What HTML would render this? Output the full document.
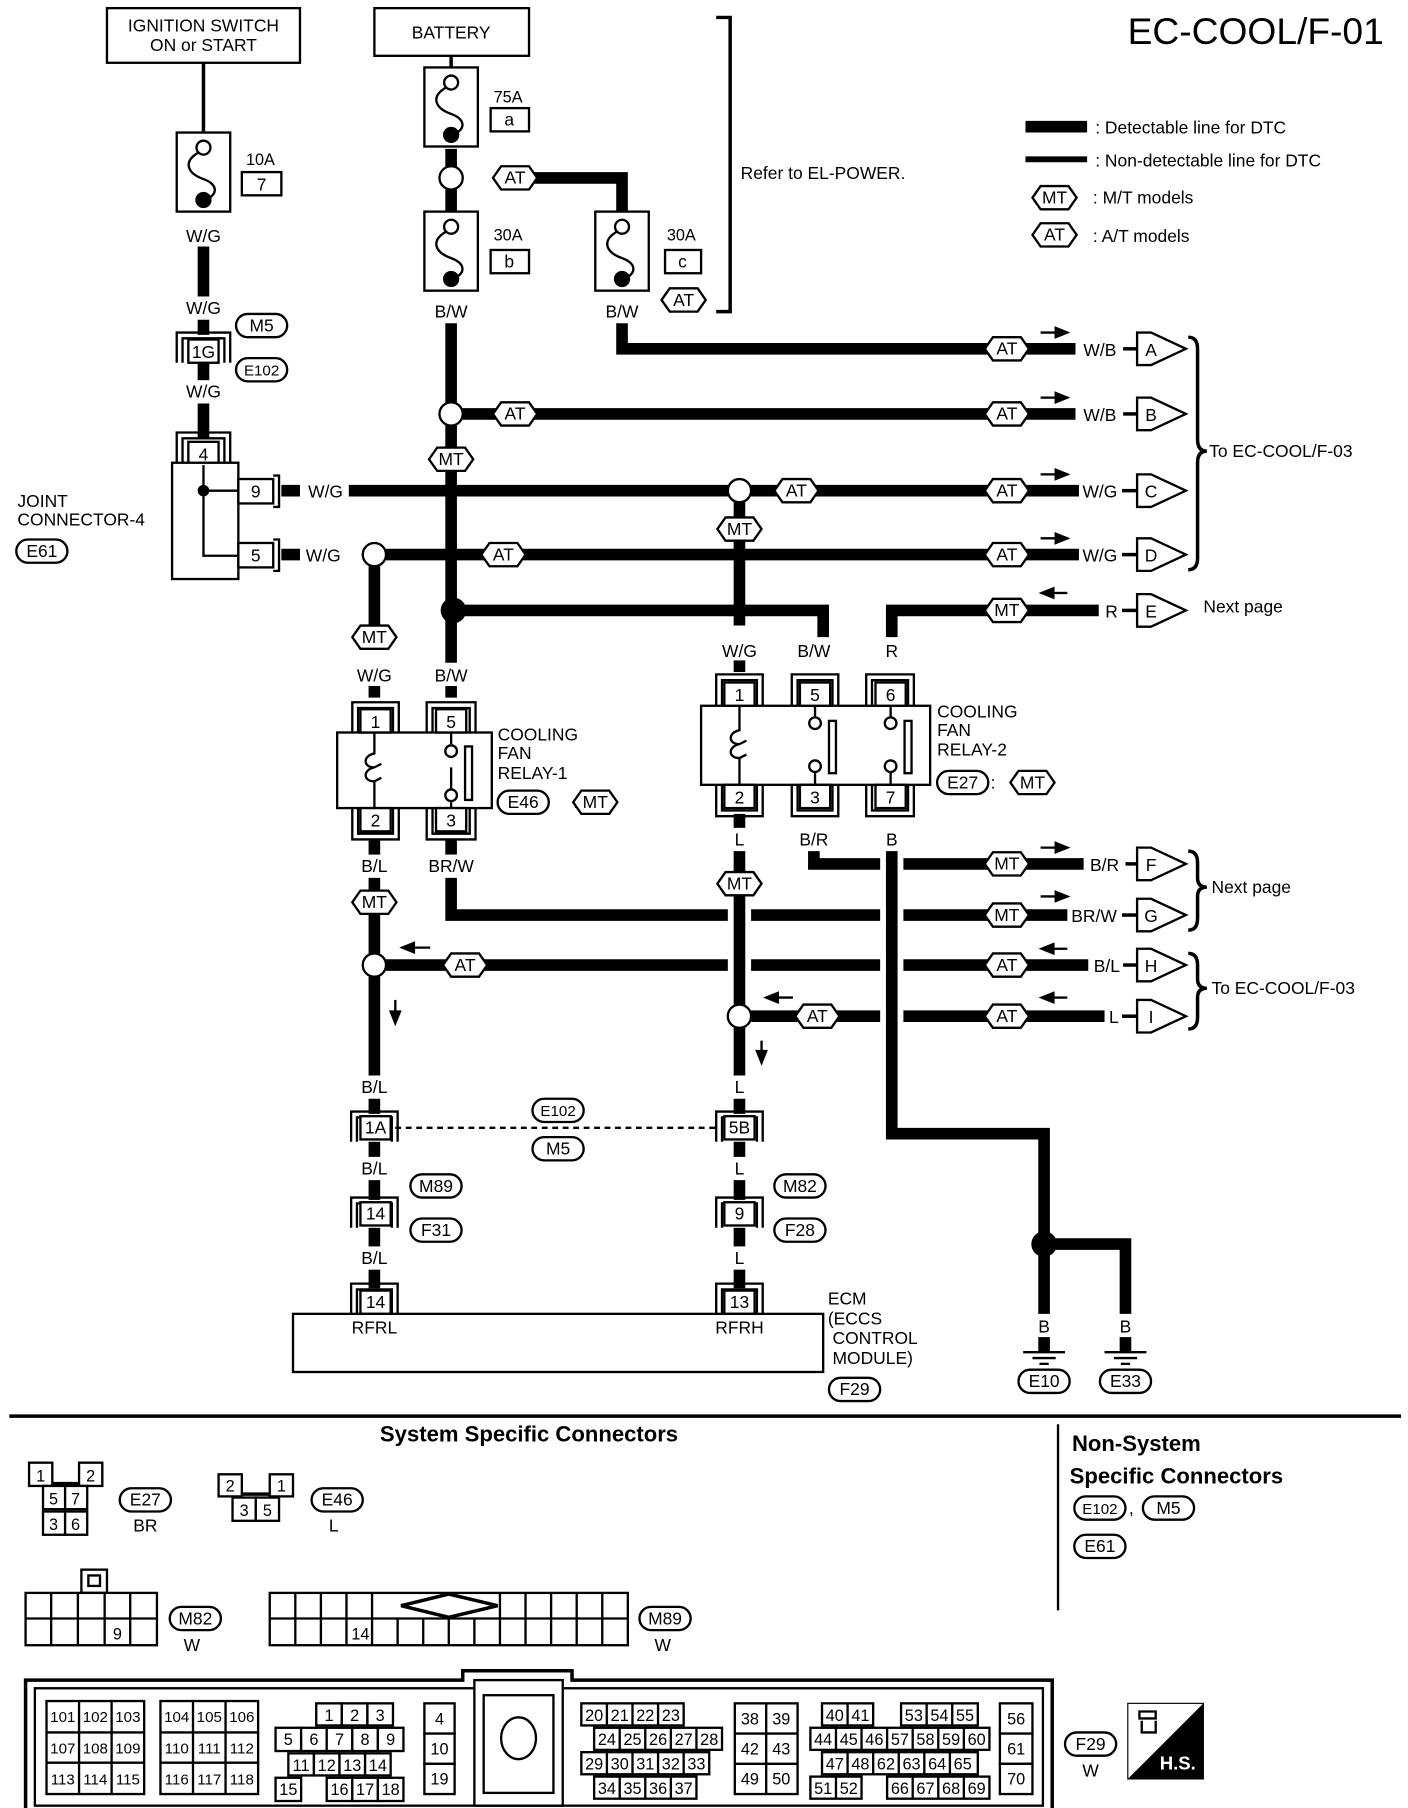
<!DOCTYPE html>
<html><head><meta charset="utf-8"><style>
html,body{margin:0;padding:0;background:#fff}
svg{display:block}
text{font-family:"Liberation Sans",sans-serif;fill:#000}
</style></head><body>
<svg width="1408" height="1808" viewBox="0 0 1211 1555" preserveAspectRatio="none" xmlns="http://www.w3.org/2000/svg">
<defs>
<path id="hx" d="M-19,0 L-12,-10 L12,-10 L19,0 L12,10 L-12,10Z" fill="#fff" stroke="#000" stroke-width="2"/>
<rect id="ov" x="-22" y="-10" width="44" height="20" rx="10" fill="#fff" stroke="#000" stroke-width="2"/>
<path id="fl" d="M0,-14 L12,-14 L42,0 L12,14 L0,14Z" fill="#fff" stroke="#000" stroke-width="2"/>
<g id="fuse"><rect x="-23" y="0" width="46" height="68" fill="#fff" stroke="#000" stroke-width="2"/><circle cx="0" cy="13" r="6" fill="#fff" stroke="#000" stroke-width="2"/><path d="M-4,17 C-18,25 -14,35 0,40 C14,45 12,55 0,58" fill="none" stroke="#000" stroke-width="2"/><circle cx="0" cy="58" r="7" fill="#000"/></g>
</defs>
<g font-size="15" text-anchor="middle">
<text x="1080" y="38" font-size="32">EC-COOL/F-01</text>

<line x1="882" y1="109" x2="935" y2="109" stroke="#000" stroke-width="10"/>
<line x1="882" y1="137" x2="935" y2="137" stroke="#000" stroke-width="5"/>
<g text-anchor="start"><text x="942" y="115">: Detectable line for DTC</text><text x="942" y="143">: Non-detectable line for DTC</text><text x="940" y="175">: M/T models</text><text x="940" y="208">: A/T models</text></g>
<use href="#hx" x="907" y="170"/><text x="907" y="175">MT</text>
<use href="#hx" x="907" y="202"/><text x="907" y="207">AT</text>

<g stroke="#000" stroke-width="10" fill="none">
<line x1="175" y1="212" x2="175" y2="255"/>
<line x1="388" y1="128" x2="388" y2="145"/>
<line x1="388" y1="163" x2="388" y2="182"/>
<polyline points="453,153 535,153 535,182"/>
<line x1="388" y1="278" x2="388" y2="346"/>
<line x1="388" y1="366" x2="388" y2="570"/>
<polyline points="535,278 535,300 850,300"/>
<line x1="398" y1="356" x2="850" y2="356"/>
<line x1="242" y1="422" x2="258" y2="422"/>
<line x1="300" y1="422" x2="626" y2="422"/>
<line x1="646" y1="422" x2="850" y2="422"/>
<line x1="242" y1="477" x2="258" y2="477"/>
<line x1="332" y1="477" x2="850" y2="477"/>
<line x1="636" y1="432" x2="636" y2="538"/>
<line x1="322" y1="487" x2="322" y2="538"/>
<polyline points="390,525 708,525 708,548"/>
<polyline points="850,525 767,525 767,548"/>
<line x1="322" y1="590" x2="322" y2="600"/>
<line x1="388" y1="590" x2="388" y2="600"/>
<line x1="636" y1="568" x2="636" y2="578"/>
<line x1="322" y1="722" x2="322" y2="735"/>
<line x1="322" y1="755" x2="322" y2="820"/>
<line x1="322" y1="840" x2="322" y2="925"/>
<polyline points="388,722 388,735"/>
<polyline points="388,755 388,787 626,787"/>
<line x1="646" y1="787" x2="757" y2="787"/>
<line x1="777" y1="787" x2="850" y2="787"/>
<line x1="332" y1="830" x2="626" y2="830"/>
<line x1="646" y1="830" x2="757" y2="830"/>
<line x1="777" y1="830" x2="850" y2="830"/>
<line x1="636" y1="700" x2="636" y2="712"/>
<line x1="636" y1="732" x2="636" y2="864"/>
<line x1="636" y1="884" x2="636" y2="925"/>
<line x1="646" y1="874" x2="757" y2="874"/>
<line x1="777" y1="874" x2="850" y2="874"/>
<polyline points="700,732 700,743 757,743"/>
<line x1="777" y1="743" x2="850" y2="743"/>
<polyline points="767,732 767,975 898,975 898,1130"/>
<polyline points="898,1070 968,1070 968,1130"/>
<line x1="322" y1="945" x2="322" y2="958"/>
<line x1="322" y1="982" x2="322" y2="995"/>
<line x1="322" y1="1015" x2="322" y2="1032"/>
<line x1="322" y1="1056" x2="322" y2="1072"/>
<line x1="322" y1="1092" x2="322" y2="1108"/>
<line x1="636" y1="945" x2="636" y2="958"/>
<line x1="636" y1="982" x2="636" y2="995"/>
<line x1="636" y1="1015" x2="636" y2="1032"/>
<line x1="636" y1="1056" x2="636" y2="1072"/>
<line x1="636" y1="1092" x2="636" y2="1108"/>
<line x1="175" y1="275" x2="175" y2="288"/>
<line x1="175" y1="312" x2="175" y2="327"/>
<line x1="175" y1="347" x2="175" y2="378"/>
<line x1="898" y1="1150" x2="898" y2="1162"/><line x1="968" y1="1150" x2="968" y2="1162"/>
<line x1="880" y1="300" x2="925" y2="300"/>
<line x1="880" y1="356" x2="925" y2="356"/>
<line x1="880" y1="422" x2="928" y2="422"/>
<line x1="880" y1="477" x2="928" y2="477"/>
<line x1="880" y1="525" x2="945" y2="525"/>
<line x1="880" y1="743" x2="932" y2="743"/>
<line x1="880" y1="787" x2="918" y2="787"/>
<line x1="880" y1="830" x2="936" y2="830"/>
<line x1="880" y1="874" x2="950" y2="874"/>
</g>
<g stroke="#000" stroke-width="3" fill="none">
<line x1="175" y1="54" x2="175" y2="113"/>
<line x1="388" y1="48" x2="388" y2="58"/>
<line x1="966" y1="300" x2="978" y2="300"/><line x1="966" y1="356" x2="978" y2="356"/>
<line x1="965" y1="525" x2="978" y2="525"/>
<line x1="965" y1="422" x2="978" y2="422"/><line x1="965" y1="477" x2="978" y2="477"/>
<line x1="968" y1="743" x2="978" y2="743"/><line x1="965" y1="787" x2="978" y2="787"/>
<line x1="966" y1="830" x2="978" y2="830"/><line x1="965" y1="874" x2="978" y2="874"/>
<line x1="340" y1="970" x2="615" y2="970" stroke-width="2" stroke-dasharray="5,4"/>
<polyline points="616,15 628,15 628,268 616,268"/>
<path d="M1022,290 Q1030,290 1030,300 L1030,378 Q1030,388 1038,388 Q1030,388 1030,398 L1030,480 Q1030,490 1022,490"/>
<path d="M1022,732 Q1030,732 1030,742 L1030,755 Q1030,763 1038,763 Q1030,763 1030,771 L1030,790 Q1030,800 1022,800"/>
<path d="M1022,820 Q1030,820 1030,830 L1030,842 Q1030,850 1038,850 Q1030,850 1030,858 L1030,875 Q1030,885 1022,885"/>
</g>

<rect x="92" y="7" width="166" height="47" fill="#fff" stroke="#000" stroke-width="2"/>
<text x="175" y="27">IGNITION SWITCH</text><text x="175" y="44">ON or START</text>
<use href="#fuse" x="175" y="114"/>
<text x="224" y="142" font-size="14">10A</text><rect x="208" y="148" width="34" height="20" fill="#fff" stroke="#000" stroke-width="2"/><text x="225" y="164">7</text>
<text x="175" y="208">W/G</text><text x="175" y="270">W/G</text><text x="175" y="342">W/G</text>
<path d="M152,312 V286 H198 V312 M157,312 V291 H193 V312" fill="none" stroke="#000" stroke-width="2"/>
<rect x="162" y="292" width="26" height="20" fill="#fff" stroke="#000" stroke-width="2"/><text x="175" y="308">1G</text>
<use href="#ov" x="225" y="280"/><text x="225" y="285">M5</text>
<use href="#ov" x="225" y="318"/><text x="225" y="323" font-size="13">E102</text>

<path d="M152,398 V372 H198 V398 M157,398 V377 H193 V398" fill="none" stroke="#000" stroke-width="2"/>
<rect x="162" y="380" width="26" height="20" fill="#fff" stroke="#000" stroke-width="2"/><text x="175" y="396">4</text>
<rect x="148" y="398" width="57" height="100" fill="#fff" stroke="#000" stroke-width="2"/>
<polyline points="175,400 175,478 206,478" fill="none" stroke="#000" stroke-width="2"/>
<line x1="175" y1="422" x2="206" y2="422" stroke="#000" stroke-width="2"/><circle cx="175" cy="422" r="5"/>
<rect x="205" y="412" width="30" height="21" fill="#fff" stroke="#000" stroke-width="2"/><text x="220" y="428">9</text>
<rect x="205" y="467" width="30" height="21" fill="#fff" stroke="#000" stroke-width="2"/><text x="220" y="483">5</text>
<path d="M235,409 H240 V436 H235 M235,464 H240 V491 H235" fill="none" stroke="#000" stroke-width="2"/>
<text x="280" y="428">W/G</text><text x="278" y="483">W/G</text>
<g text-anchor="start"><text x="15" y="436">JOINT</text><text x="15" y="452">CONNECTOR-4</text></g>
<use href="#ov" x="36" y="474"/><text x="36" y="479">E61</text>

<rect x="322" y="7" width="133" height="41" fill="#fff" stroke="#000" stroke-width="2"/><text x="388" y="33">BATTERY</text>
<use href="#fuse" x="388" y="58"/>
<text x="437" y="88" font-size="14">75A</text><rect x="422" y="93" width="33" height="20" fill="#fff" stroke="#000" stroke-width="2"/><text x="438" y="108">a</text>
<circle cx="388" cy="153" r="10" fill="#fff" stroke="#000" stroke-width="2"/>
<use href="#hx" x="443" y="153"/><text x="443" y="158">AT</text>
<use href="#fuse" x="388" y="182"/><use href="#fuse" x="535" y="182"/>
<text x="437" y="207" font-size="14">30A</text><rect x="422" y="215" width="33" height="20" fill="#fff" stroke="#000" stroke-width="2"/><text x="438" y="230">b</text>
<text x="586" y="207" font-size="14">30A</text><rect x="572" y="215" width="31" height="20" fill="#fff" stroke="#000" stroke-width="2"/><text x="587" y="230">c</text>
<use href="#hx" x="588" y="258"/><text x="588" y="263">AT</text>
<text x="388" y="273">B/W</text><text x="535" y="273">B/W</text>
<text x="637" y="154" text-anchor="start">Refer to EL-POWER.</text>

<circle cx="388" cy="356" r="10" fill="#fff" stroke="#000" stroke-width="2"/>
<circle cx="636" cy="422" r="10" fill="#fff" stroke="#000" stroke-width="2"/>
<circle cx="322" cy="477" r="10" fill="#fff" stroke="#000" stroke-width="2"/>
<circle cx="390" cy="525" r="11"/>
<circle cx="322" cy="830" r="10" fill="#fff" stroke="#000" stroke-width="2"/>
<circle cx="636" cy="874" r="10" fill="#fff" stroke="#000" stroke-width="2"/>
<circle cx="898" cy="1070" r="11"/>

<use href="#hx" x="443" y="356"/><text x="443" y="361">AT</text>
<use href="#hx" x="388" y="395"/><text x="388" y="400">MT</text>
<use href="#hx" x="685" y="422"/><text x="685" y="427">AT</text>
<use href="#hx" x="636" y="455"/><text x="636" y="460">MT</text>
<use href="#hx" x="433" y="477"/><text x="433" y="482">AT</text>
<use href="#hx" x="322" y="548"/><text x="322" y="553">MT</text>
<use href="#hx" x="322" y="776"/><text x="322" y="781">MT</text>
<use href="#hx" x="636" y="760"/><text x="636" y="765">MT</text>
<use href="#hx" x="400" y="830"/><text x="400" y="835">AT</text>
<use href="#hx" x="703" y="874"/><text x="703" y="879">AT</text>
<use href="#hx" x="866" y="300"/><text x="866" y="305">AT</text>
<use href="#hx" x="866" y="356"/><text x="866" y="361">AT</text>
<use href="#hx" x="866" y="422"/><text x="866" y="427">AT</text>
<use href="#hx" x="866" y="477"/><text x="866" y="482">AT</text>
<use href="#hx" x="866" y="525"/><text x="866" y="530">MT</text>
<use href="#hx" x="866" y="743"/><text x="866" y="748">MT</text>
<use href="#hx" x="866" y="787"/><text x="866" y="792">MT</text>
<use href="#hx" x="866" y="830"/><text x="866" y="835">AT</text>
<use href="#hx" x="866" y="874"/><text x="866" y="879">AT</text>
<text x="946" y="306">W/B</text><text x="946" y="362">W/B</text>
<text x="946" y="428">W/G</text><text x="946" y="483">W/G</text>
<text x="956" y="531">R</text>
<text x="950" y="749">B/R</text><text x="941" y="793">BR/W</text><text x="952" y="836">B/L</text><text x="958" y="880">L</text>
<use href="#fl" x="978" y="300"/><text x="990" y="306">A</text>
<use href="#fl" x="978" y="356"/><text x="990" y="362">B</text>
<use href="#fl" x="978" y="422"/><text x="990" y="428">C</text>
<use href="#fl" x="978" y="477"/><text x="990" y="483">D</text>
<use href="#fl" x="978" y="525"/><text x="990" y="531">E</text>
<use href="#fl" x="978" y="743"/><text x="990" y="749">F</text>
<use href="#fl" x="978" y="787"/><text x="990" y="793">G</text>
<use href="#fl" x="978" y="830"/><text x="990" y="836">H</text>
<use href="#fl" x="978" y="874"/><text x="990" y="880">I</text>
<g text-anchor="start"><text x="1040" y="393">To EC-COOL/F-03</text><text x="1035" y="527">Next page</text><text x="1042" y="768">Next page</text><text x="1042" y="855">To EC-COOL/F-03</text></g>
<g stroke="#000" stroke-width="2" fill="#000">
<line x1="895" y1="286" x2="910" y2="286"/><path d="M918,286 L908,282 L908,290Z"/>
<line x1="895" y1="342" x2="910" y2="342"/><path d="M918,342 L908,338 L908,346Z"/>
<line x1="895" y1="408" x2="910" y2="408"/><path d="M918,408 L908,404 L908,412Z"/>
<line x1="895" y1="463" x2="910" y2="463"/><path d="M918,463 L908,459 L908,467Z"/>
<line x1="905" y1="510" x2="918" y2="510"/><path d="M896,510 L906,506 L906,514Z"/>
<line x1="895" y1="729" x2="910" y2="729"/><path d="M918,729 L908,725 L908,733Z"/>
<line x1="895" y1="771" x2="910" y2="771"/><path d="M918,771 L908,767 L908,775Z"/>
<line x1="905" y1="816" x2="918" y2="816"/><path d="M896,816 L906,812 L906,820Z"/>
<line x1="905" y1="858" x2="918" y2="858"/><path d="M896,858 L906,854 L906,862Z"/>
<line x1="355" y1="815" x2="370" y2="815"/><path d="M346,815 L356,811 L356,819Z"/>
<line x1="668" y1="858" x2="682" y2="858"/><path d="M659,858 L669,854 L669,862Z"/>
<line x1="340" y1="860" x2="340" y2="872"/><path d="M340,880 L336,870 L344,870Z"/>
<line x1="655" y1="895" x2="655" y2="906"/><path d="M655,914 L651,904 L659,904Z"/>
</g>

<text x="322" y="586">W/G</text><text x="388" y="586">B/W</text>
<path d="M303,630 V604 H343 V630 M308,630 V609 H338 V630 M367,630 V604 H409 V630 M372,630 V609 H404 V630" fill="none" stroke="#000" stroke-width="2"/>
<path d="M303,695 V722 H343 V695 M308,695 V717 H338 V695 M367,695 V722 H409 V695 M372,695 V717 H404 V695" fill="none" stroke="#000" stroke-width="2"/>
<rect x="290" y="630" width="133" height="65" fill="#fff" stroke="#000" stroke-width="2"/>
<rect x="310" y="610" width="26" height="20" fill="#fff" stroke="#000" stroke-width="2"/><text x="323" y="626">1</text>
<rect x="375" y="610" width="26" height="20" fill="#fff" stroke="#000" stroke-width="2"/><text x="388" y="626">5</text>
<rect x="310" y="695" width="26" height="20" fill="#fff" stroke="#000" stroke-width="2"/><text x="323" y="711">2</text>
<rect x="375" y="695" width="26" height="20" fill="#fff" stroke="#000" stroke-width="2"/><text x="388" y="711">3</text>
<path d="M322,630 V648 C312,650 312,660 322,660 C312,662 312,672 322,672 V695 M322,660 l6,-3 M322,672 l6,-3 M388,630 V640 M388,660 V680 M388,690 V695" fill="none" stroke="#000" stroke-width="2"/>
<circle cx="388" cy="646" r="5" fill="#fff" stroke="#000" stroke-width="2"/><circle cx="388" cy="684" r="5" fill="#fff" stroke="#000" stroke-width="2"/>
<rect x="400" y="642" width="6" height="46" fill="#fff" stroke="#000" stroke-width="2"/>
<g text-anchor="start"><text x="428" y="637">COOLING</text><text x="428" y="653">FAN</text><text x="428" y="670">RELAY-1</text><text x="493" y="695">:</text></g>
<use href="#ov" x="450" y="690"/><text x="450" y="695">E46</text>
<use href="#hx" x="512" y="690"/><text x="512" y="695">MT</text>
<text x="322" y="750">B/L</text><text x="388" y="750">BR/W</text>

<text x="636" y="565">W/G</text><text x="700" y="565">B/W</text><text x="767" y="565">R</text>
<path d="M616,607 V580 H656 V607 M621,607 V585 H651 V607 M681,607 V580 H721 V607 M686,607 V585 H716 V607 M745,607 V580 H786 V607 M750,607 V585 H781 V607" fill="none" stroke="#000" stroke-width="2"/>
<path d="M616,675 V702 H656 V675 M621,675 V697 H651 V675 M681,675 V702 H721 V675 M686,675 V697 H716 V675 M745,675 V702 H786 V675 M750,675 V697 H781 V675" fill="none" stroke="#000" stroke-width="2"/>
<rect x="603" y="607" width="197" height="68" fill="#fff" stroke="#000" stroke-width="2"/>
<rect x="623" y="587" width="26" height="20" fill="#fff" stroke="#000" stroke-width="2"/><text x="636" y="603">1</text>
<rect x="688" y="587" width="26" height="20" fill="#fff" stroke="#000" stroke-width="2"/><text x="701" y="603">5</text>
<rect x="753" y="587" width="26" height="20" fill="#fff" stroke="#000" stroke-width="2"/><text x="766" y="603">6</text>
<rect x="623" y="675" width="26" height="20" fill="#fff" stroke="#000" stroke-width="2"/><text x="636" y="691">2</text>
<rect x="688" y="675" width="26" height="20" fill="#fff" stroke="#000" stroke-width="2"/><text x="701" y="691">3</text>
<rect x="753" y="675" width="26" height="20" fill="#fff" stroke="#000" stroke-width="2"/><text x="766" y="691">7</text>
<path d="M636,607 V628 C626,630 626,640 636,640 C626,642 626,652 636,652 V675 M636,640 l6,-3 M636,652 l6,-3 M701,607 V617 M701,664 V675 M766,607 V617 M766,664 V675" fill="none" stroke="#000" stroke-width="2"/>
<circle cx="701" cy="622" r="5" fill="#fff" stroke="#000" stroke-width="2"/><circle cx="701" cy="659" r="5" fill="#fff" stroke="#000" stroke-width="2"/>
<circle cx="766" cy="622" r="5" fill="#fff" stroke="#000" stroke-width="2"/><circle cx="766" cy="659" r="5" fill="#fff" stroke="#000" stroke-width="2"/>
<rect x="713" y="620" width="6" height="45" fill="#fff" stroke="#000" stroke-width="2"/>
<rect x="778" y="620" width="6" height="45" fill="#fff" stroke="#000" stroke-width="2"/>
<g text-anchor="start"><text x="806" y="617">COOLING</text><text x="806" y="633">FAN</text><text x="806" y="650">RELAY-2</text><text x="852" y="678">:</text></g>
<use href="#ov" x="828" y="673"/><text x="828" y="678">E27</text>
<use href="#hx" x="888" y="673"/><text x="888" y="678">MT</text>
<text x="636" y="727">L</text><text x="700" y="727">B/R</text><text x="767" y="727">B</text>

<text x="322" y="940">B/L</text><text x="636" y="940">L</text>
<text x="322" y="1010">B/L</text><text x="636" y="1010">L</text>
<text x="322" y="1087">B/L</text><text x="636" y="1087">L</text>
<g fill="none" stroke="#000" stroke-width="2">
<path d="M302,982 V956 H342 V982 M307,982 V961 H337 V982 M616,982 V956 H656 V982 M621,982 V961 H651 V982"/>
<path d="M302,1056 V1030 H342 V1056 M307,1056 V1035 H337 V1056 M616,1056 V1030 H656 V1056 M621,1056 V1035 H651 V1056"/>
<path d="M302,1130 V1104 H342 V1130 M307,1130 V1109 H337 V1130 M616,1130 V1104 H656 V1130 M621,1130 V1109 H651 V1130"/>
</g>
<g fill="#fff" stroke="#000" stroke-width="2">
<rect x="310" y="960" width="26" height="20"/><rect x="623" y="960" width="26" height="20"/>
<rect x="310" y="1034" width="26" height="20"/><rect x="623" y="1034" width="26" height="20"/>
<rect x="310" y="1110" width="26" height="20"/><rect x="623" y="1110" width="26" height="20"/>
<rect x="252" y="1130" width="456" height="50"/>
</g>
<text x="323" y="975">1A</text><text x="636" y="975">5B</text>
<text x="323" y="1049">14</text><text x="636" y="1049">9</text>
<text x="323" y="1125">14</text><text x="636" y="1125">13</text>
<text x="322" y="1147">RFRL</text><text x="636" y="1147">RFRH</text>
<use href="#ov" x="480" y="955"/><text x="480" y="960" font-size="13">E102</text>
<use href="#ov" x="480" y="988"/><text x="480" y="993">M5</text>
<use href="#ov" x="375" y="1020"/><text x="375" y="1025">M89</text>
<use href="#ov" x="375" y="1058"/><text x="375" y="1063">F31</text>
<use href="#ov" x="688" y="1020"/><text x="688" y="1025">M82</text>
<use href="#ov" x="688" y="1058"/><text x="688" y="1063">F28</text>
<g text-anchor="start"><text x="712" y="1122">ECM</text><text x="712" y="1139">(ECCS</text><text x="716" y="1156">CONTROL</text><text x="716" y="1173">MODULE)</text></g>
<use href="#ov" x="735" y="1195"/><text x="735" y="1200">F29</text>
<text x="898" y="1146">B</text><text x="968" y="1146">B</text>
<g stroke="#000" stroke-width="2"><line x1="880" y1="1163" x2="916" y2="1163"/><line x1="888" y1="1168" x2="908" y2="1168"/><line x1="894" y1="1173" x2="902" y2="1173"/>
<line x1="950" y1="1163" x2="986" y2="1163"/><line x1="958" y1="1168" x2="978" y2="1168"/><line x1="964" y1="1173" x2="972" y2="1173"/></g>
<use href="#ov" x="898" y="1188"/><text x="898" y="1193">E10</text>
<use href="#ov" x="968" y="1188"/><text x="968" y="1193">E33</text>

<line x1="8" y1="1218" x2="1205" y2="1218" stroke="#000" stroke-width="3"/>
<line x1="910" y1="1225" x2="910" y2="1385" stroke="#000" stroke-width="2"/>
<text x="455" y="1240" font-size="19" font-weight="bold">System Specific Connectors</text>
<g text-anchor="start" font-size="19" font-weight="bold"><text x="922" y="1248">Non-System</text><text x="920" y="1276">Specific Connectors</text></g>
<use href="#ov" x="946" y="1297"/><text x="946" y="1302" font-size="13">E102</text><text x="973" y="1302">,</text>
<use href="#ov" x="1005" y="1297"/><text x="1005" y="1302">M5</text>
<use href="#ov" x="946" y="1330"/><text x="946" y="1335">E61</text>

<g fill="#fff" stroke="#000" stroke-width="2">
<rect x="25" y="1258" width="20" height="20"/><rect x="68" y="1258" width="20" height="20"/>
<rect x="37" y="1278" width="19" height="20"/><rect x="56" y="1278" width="19" height="20"/>
<rect x="37" y="1300" width="19" height="20"/><rect x="56" y="1300" width="19" height="20"/>
<rect x="188" y="1268" width="20" height="19"/><rect x="232" y="1268" width="20" height="19"/>
<rect x="200" y="1288" width="20" height="20"/><rect x="220" y="1288" width="20" height="20"/>
</g>
<line x1="45" y1="1276" x2="68" y2="1276" stroke="#000" stroke-width="3"/>
<line x1="208" y1="1285" x2="232" y2="1285" stroke="#000" stroke-width="3"/>
<g font-size="14"><text x="35" y="1274">1</text><text x="78" y="1274">2</text><text x="46" y="1294">5</text><text x="65" y="1294">7</text><text x="46" y="1316">3</text><text x="65" y="1316">6</text>
<text x="198" y="1283">2</text><text x="242" y="1283">1</text><text x="210" y="1304">3</text><text x="230" y="1304">5</text></g>
<use href="#ov" x="125" y="1290"/><text x="125" y="1295">E27</text><text x="125" y="1317">BR</text>
<use href="#ov" x="290" y="1290"/><text x="290" y="1295">E46</text><text x="287" y="1317">L</text>

<g fill="#fff" stroke="#000" stroke-width="2">
<rect x="70" y="1350" width="22" height="20"/><rect x="76" y="1355" width="10" height="9"/>
<rect x="22" y="1370" width="113" height="45"/>
</g>
<path d="M44,1370V1415M67,1370V1415M90,1370V1415M112,1370V1415M22,1392H135" stroke="#000" stroke-width="2"/>
<text x="101" y="1410" font-size="14">9</text>
<use href="#ov" x="168" y="1392"/><text x="168" y="1397">M82</text><text x="165" y="1420">W</text>
<rect x="232" y="1370" width="308" height="45" fill="#fff" stroke="#000" stroke-width="2"/>
<path d="M254,1370V1415M276,1370V1415M298,1370V1415M320,1370V1415M342,1392V1415M364,1392V1415M386,1392V1415M408,1392V1415M430,1370V1415M452,1370V1415M474,1370V1415M496,1370V1415M518,1370V1415M232,1392H540" stroke="#000" stroke-width="2"/>
<path d="M345,1381 L386,1371 L428,1381 L386,1391Z" fill="#fff" stroke="#000" stroke-width="3"/>
<text x="310" y="1410" font-size="14">14</text>
<use href="#ov" x="572" y="1392"/><text x="572" y="1397">M89</text><text x="570" y="1420">W</text>

<path d="M22,1445 H398 V1437 H492 V1445 H905 V1560 H22Z" fill="#fff" stroke="#000" stroke-width="3"/>
<rect x="30" y="1452" width="867" height="101" fill="none" stroke="#000" stroke-width="2"/>
<rect x="408" y="1445" width="76" height="108" fill="#fff" stroke="#000" stroke-width="2"/>
<rect x="416" y="1458" width="60" height="84" fill="#fff" stroke="#000" stroke-width="2"/>
<ellipse cx="446" cy="1495" rx="15" ry="18" fill="#fff" stroke="#000" stroke-width="2"/>
<g fill="#fff" stroke="#000" stroke-width="2">
<rect x="40" y="1463" width="84" height="80"/><rect x="138" y="1463" width="84" height="80"/>
</g>
<path d="M68,1463V1543M96,1463V1543M40,1490H124M40,1516H124M166,1463V1543M194,1463V1543M138,1490H222M138,1516H222" stroke="#000" stroke-width="2"/>
<g font-size="13">
<text x="54" y="1481">101</text><text x="82" y="1481">102</text><text x="110" y="1481">103</text>
<text x="54" y="1508">107</text><text x="82" y="1508">108</text><text x="110" y="1508">109</text>
<text x="54" y="1535">113</text><text x="82" y="1535">114</text><text x="110" y="1535">115</text>
<text x="152" y="1481">104</text><text x="180" y="1481">105</text><text x="208" y="1481">106</text>
<text x="152" y="1508">110</text><text x="180" y="1508">111</text><text x="208" y="1508">112</text>
<text x="152" y="1535">116</text><text x="180" y="1535">117</text><text x="208" y="1535">118</text>
</g>
<g fill="#fff" stroke="#000" stroke-width="2">
<rect x="272" y="1465" width="22" height="19"/><rect x="294" y="1465" width="22" height="19"/><rect x="316" y="1465" width="22" height="19"/>
<rect x="237" y="1486" width="22" height="20"/><rect x="259" y="1486" width="22" height="20"/><rect x="281" y="1486" width="22" height="20"/><rect x="303" y="1486" width="22" height="20"/><rect x="325" y="1486" width="22" height="20"/>
<rect x="248" y="1508" width="22" height="19"/><rect x="270" y="1508" width="22" height="19"/><rect x="292" y="1508" width="22" height="19"/><rect x="314" y="1508" width="22" height="19"/>
<rect x="237" y="1529" width="22" height="20"/><rect x="281" y="1529" width="22" height="20"/><rect x="303" y="1529" width="22" height="20"/><rect x="325" y="1529" width="22" height="20"/>
<rect x="365" y="1465" width="26" height="26"/><rect x="365" y="1491" width="26" height="26"/><rect x="365" y="1517" width="26" height="26"/>
</g>
<g font-size="14">
<text x="283" y="1480">1</text><text x="305" y="1480">2</text><text x="327" y="1480">3</text>
<text x="248" y="1501">5</text><text x="270" y="1501">6</text><text x="292" y="1501">7</text><text x="314" y="1501">8</text><text x="336" y="1501">9</text>
<text x="259" y="1523">11</text><text x="281" y="1523">12</text><text x="303" y="1523">13</text><text x="325" y="1523">14</text>
<text x="248" y="1544">15</text><text x="292" y="1544">16</text><text x="314" y="1544">17</text><text x="336" y="1544">18</text>
<text x="378" y="1483">4</text><text x="378" y="1509">10</text><text x="378" y="1535">19</text>
</g>
<g fill="#fff" stroke="#000" stroke-width="2">
<rect x="500" y="1465" width="88" height="19"/><rect x="511" y="1486" width="110" height="19"/><rect x="500" y="1507" width="110" height="19"/><rect x="511" y="1528" width="88" height="19"/>
<rect x="632" y="1465" width="54" height="78"/>
<rect x="707" y="1465" width="44" height="19"/><rect x="775" y="1465" width="66" height="19"/>
<rect x="697" y="1486" width="154" height="19"/><rect x="707" y="1507" width="134" height="19"/>
<rect x="697" y="1528" width="44" height="19"/><rect x="763" y="1528" width="88" height="19"/>
<rect x="860" y="1465" width="28" height="26"/><rect x="860" y="1491" width="28" height="26"/><rect x="860" y="1517" width="28" height="26"/>
</g>
<path d="M522,1465V1484M544,1465V1484M566,1465V1484M533,1486V1505M555,1486V1505M577,1486V1505M599,1486V1505M522,1507V1526M544,1507V1526M566,1507V1526M588,1507V1526M533,1528V1547M555,1528V1547M577,1528V1547M659,1465V1543M632,1491H686M632,1517H686M729,1465V1484M797,1465V1484M819,1465V1484M719,1486V1505M741,1486V1505M763,1486V1505M785,1486V1505M807,1486V1505M829,1486V1505M729,1507V1526M751,1507V1526M773,1507V1526M795,1507V1526M817,1507V1526M719,1528V1547M785,1528V1547M807,1528V1547M829,1528V1547" stroke="#000" stroke-width="2"/>
<g font-size="14">
<text x="511" y="1480">20</text><text x="533" y="1480">21</text><text x="555" y="1480">22</text><text x="577" y="1480">23</text>
<text x="522" y="1501">24</text><text x="544" y="1501">25</text><text x="566" y="1501">26</text><text x="588" y="1501">27</text><text x="610" y="1501">28</text>
<text x="511" y="1522">29</text><text x="533" y="1522">30</text><text x="555" y="1522">31</text><text x="577" y="1522">32</text><text x="599" y="1522">33</text>
<text x="522" y="1543">34</text><text x="544" y="1543">35</text><text x="566" y="1543">36</text><text x="588" y="1543">37</text>
<text x="645" y="1483">38</text><text x="672" y="1483">39</text><text x="645" y="1509">42</text><text x="672" y="1509">43</text><text x="645" y="1535">49</text><text x="672" y="1535">50</text>
<text x="718" y="1480">40</text><text x="740" y="1480">41</text><text x="786" y="1480">53</text><text x="808" y="1480">54</text><text x="830" y="1480">55</text>
<text x="708" y="1501">44</text><text x="730" y="1501">45</text><text x="752" y="1501">46</text><text x="774" y="1501">57</text><text x="796" y="1501">58</text><text x="818" y="1501">59</text><text x="840" y="1501">60</text>
<text x="718" y="1522">47</text><text x="740" y="1522">48</text><text x="762" y="1522">62</text><text x="784" y="1522">63</text><text x="806" y="1522">64</text><text x="828" y="1522">65</text>
<text x="708" y="1543">51</text><text x="730" y="1543">52</text><text x="774" y="1543">66</text><text x="796" y="1543">67</text><text x="818" y="1543">68</text><text x="840" y="1543">69</text>
<text x="874" y="1483">56</text><text x="874" y="1509">61</text><text x="874" y="1535">70</text>
</g>
<use href="#ov" x="938" y="1500"/><text x="938" y="1505">F29</text><text x="938" y="1528">W</text>
<rect x="970" y="1465" width="65" height="65" fill="#fff" stroke="#000" stroke-width="1"/>
<path d="M1035,1465 L1035,1530 L970,1530Z" fill="#000"/>
<path d="M980,1472 h14 v6 h-14z M982,1480 v10 h12 v-10" fill="none" stroke="#000" stroke-width="2"/>
<text x="1013" y="1522" font-size="16" font-weight="bold" style="fill:#fff">H.S.</text>
</g>
</svg>
</body></html>
